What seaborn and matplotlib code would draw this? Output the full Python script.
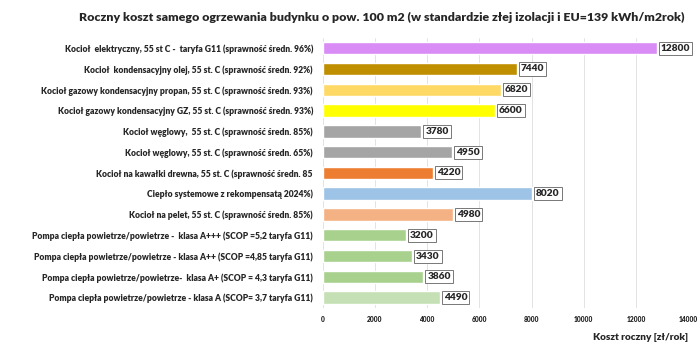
import pandas as pd
import matplotlib.pyplot as plt
import seaborn as sns

# dane
labels = [
    "Kocioł  elektryczny, 55 st C -  taryfa G11 (sprawność średn. 96%)",
    "Kocioł  kondensacyjny olej, 55 st. C (sprawność średn. 92%)",
    "Kocioł gazowy kondensacyjny propan, 55 st. C (sprawność średn. 93%)",
    "Kocioł gazowy kondensacyjny GZ, 55 st. C (sprawność średn. 93%)",
    "Kocioł węglowy,  55 st. C (sprawność średn. 85%)",
    "Kocioł węglowy, 55 st. C (sprawność średn. 65%)",
    "Kocioł na kawałki drewna, 55 st. C (sprawność średn. 85",
    "Ciepło systemowe z rekompensatą 2024%)",
    "Kocioł na pelet, 55 st. C (sprawność średn. 85%)",
    "Pompa ciepła powietrze/powietrze -  klasa A+++ (SCOP =5,2 taryfa G11)",
    "Pompa ciepła powietrze/powietrze - klasa A++ (SCOP =4,85 taryfa G11)",
    "Pompa ciepła powietrze/powietrze-  klasa A+ (SCOP = 4,3 taryfa G11)",
    "Pompa ciepła powietrze/powietrze - klasa A (SCOP= 3,7 taryfa G11)",
]
costs = [12800, 7440, 6820, 6600, 3780, 4950, 4220, 8020, 4980, 3200, 3430, 3860, 4490]
colors = ["#D98CF5", "#BF8F00", "#FFD966", "#FFFF00", "#A5A5A5", "#A5A5A5", "#ED7D31",
          "#9DC3E6", "#F4B183", "#A9D18E", "#A9D18E", "#A9D18E", "#C5E0B4"]

df = pd.DataFrame({"Typ": labels, "Koszt": costs})

sns.set_style("white")
plt.rcParams['font.family'] = ['Lato', 'DejaVu Sans']

fig = plt.figure(figsize=(7, 3.5), dpi=100)
ax = fig.add_axes([0.461, 0.12, 0.522, 0.772])

sns.barplot(data=df, y="Typ", x="Koszt", hue="Typ", palette=colors, legend=False,
            width=0.6, saturation=1, ax=ax, orient="h")

ax.set_xlim(0, 14000)
ax.set_xticks(range(0, 14001, 2000))
ax.tick_params(axis='x', labelsize=4.8, length=0, pad=6)
ax.tick_params(axis='y', labelsize=6.15, length=0, pad=7)
for t in ax.get_yticklabels() + ax.get_xticklabels():
    t.set_fontweight('heavy')
ax.grid(axis='x', color='#e3e3e3', linewidth=0.7)
ax.set_axisbelow(True)
for s in ax.spines.values():
    s.set_visible(False)
ax.set_ylabel("")
ax.set_xlabel("Koszt roczny [zł/rok]", fontsize=7.2, fontweight='heavy', loc='right', labelpad=7)

for i, v in enumerate(costs):
    ax.text(v + 150, i, str(v), va='center', ha='left', fontsize=7.3, fontweight='heavy',
            bbox=dict(boxstyle='square,pad=0.2', fc='white', ec='#777777', lw=0.7))

fig.suptitle("Roczny koszt samego ogrzewania budynku o pow. 100 m2 (w standardzie złej izolacji i EU=139 kWh/m2rok)",
             fontsize=8.9, fontweight='heavy', x=0.545, y=0.965)

fig.savefig("out.png", dpi=100)
